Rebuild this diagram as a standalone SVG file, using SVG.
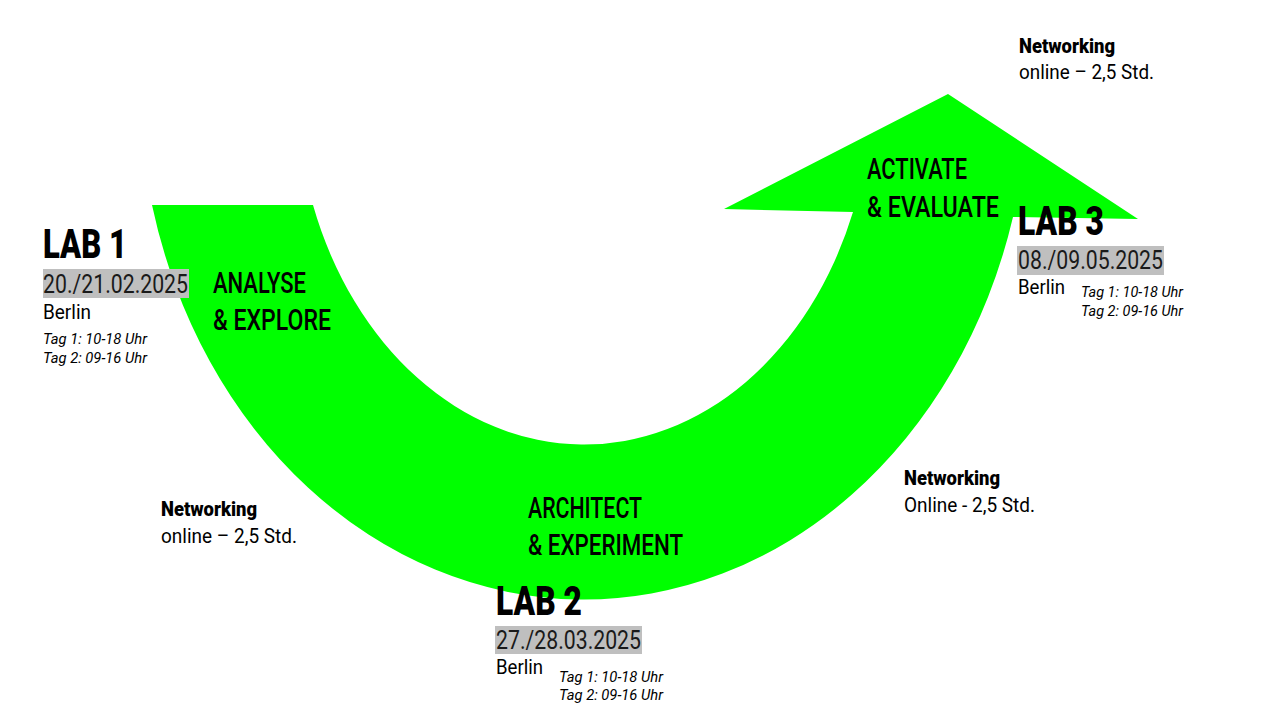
<svg xmlns="http://www.w3.org/2000/svg" width="1280" height="720" viewBox="0 0 1280 720">
<style>
.bg{fill:#ffffff}
.arrow{fill:#00FF00}
.lab{font-family:Roboto,"Liberation Sans",sans-serif;font-weight:900;font-size:40px;fill:#000}
.phase{font-family:Roboto,"Liberation Sans",sans-serif;font-weight:500;font-size:30px;fill:#000}
.date{font-family:Roboto,"Liberation Sans",sans-serif;font-weight:400;font-size:25px;fill:#1a1a1a}
.datebox{fill:#BFBFBF}
.city{font-family:Roboto,"Liberation Sans",sans-serif;font-weight:400;font-size:20px;fill:#000}
.time{font-family:Roboto,"Liberation Sans",sans-serif;font-style:italic;font-weight:400;font-size:15.5px;fill:#000}
.netT{font-family:Roboto,"Liberation Sans",sans-serif;font-weight:900;font-size:20px;fill:#000}
.net{font-family:Roboto,"Liberation Sans",sans-serif;font-weight:400;font-size:20px;fill:#000}
</style>
<rect class="bg" x="0" y="0" width="1280" height="720"/>
<g id="connectors">
  <path id="flow-arrow" class="arrow" d="M152,205 A445,520 0 0 0 1013,217 L1138,219 L948,94 L724,209 L853,212 A288,362 0 0 1 313,205 Z"/>
</g>
<g id="phase-analyse">
  <text class="phase" x="213" y="293" textLength="93" lengthAdjust="spacingAndGlyphs">ANALYSE</text>
  <text class="phase" x="213" y="330" textLength="118" lengthAdjust="spacingAndGlyphs">&amp; EXPLORE</text>
</g>
<g id="phase-architect">
  <text class="phase" x="528" y="518" textLength="114" lengthAdjust="spacingAndGlyphs">ARCHITECT</text>
  <text class="phase" x="528" y="555" textLength="155" lengthAdjust="spacingAndGlyphs">&amp; EXPERIMENT</text>
</g>
<g id="phase-activate">
  <text class="phase" x="867" y="179" textLength="100" lengthAdjust="spacingAndGlyphs">ACTIVATE</text>
  <text class="phase" x="867" y="217" textLength="132" lengthAdjust="spacingAndGlyphs">&amp; EVALUATE</text>
</g>
<g id="lab1">
  <text class="lab" x="43" y="258" textLength="84" lengthAdjust="spacingAndGlyphs">LAB 1</text>
  <rect class="datebox" x="43" y="269" width="146" height="29"/>
  <text class="date" x="43" y="293" textLength="145" lengthAdjust="spacingAndGlyphs">20./21.02.2025</text>
  <text class="city" x="43" y="319" textLength="48" lengthAdjust="spacingAndGlyphs">Berlin</text>
  <text class="time" x="43" y="344" textLength="104" lengthAdjust="spacingAndGlyphs">Tag 1: 10-18 Uhr</text>
  <text class="time" x="43" y="363" textLength="104" lengthAdjust="spacingAndGlyphs">Tag 2: 09-16 Uhr</text>
</g>
<g id="lab2">
  <text class="lab" x="496" y="615" textLength="86" lengthAdjust="spacingAndGlyphs">LAB 2</text>
  <rect class="datebox" x="495" y="626" width="147" height="28"/>
  <text class="date" x="496" y="649" textLength="145" lengthAdjust="spacingAndGlyphs">27./28.03.2025</text>
  <text class="city" x="496" y="674" textLength="47" lengthAdjust="spacingAndGlyphs">Berlin</text>
  <text class="time" x="559" y="682" textLength="104" lengthAdjust="spacingAndGlyphs">Tag 1: 10-18 Uhr</text>
  <text class="time" x="559" y="700" textLength="104" lengthAdjust="spacingAndGlyphs">Tag 2: 09-16 Uhr</text>
</g>
<g id="lab3">
  <text class="lab" x="1018" y="235" textLength="86" lengthAdjust="spacingAndGlyphs">LAB 3</text>
  <rect class="datebox" x="1017" y="246" width="147" height="29"/>
  <text class="date" x="1018" y="269" textLength="145" lengthAdjust="spacingAndGlyphs">08./09.05.2025</text>
  <text class="city" x="1018" y="294" textLength="47" lengthAdjust="spacingAndGlyphs">Berlin</text>
  <text class="time" x="1081" y="297" textLength="102" lengthAdjust="spacingAndGlyphs">Tag 1: 10-18 Uhr</text>
  <text class="time" x="1081" y="316" textLength="102" lengthAdjust="spacingAndGlyphs">Tag 2: 09-16 Uhr</text>
</g>
<g id="networking-1">
  <text class="netT" x="161" y="516" textLength="96" lengthAdjust="spacingAndGlyphs">Networking</text>
  <text class="net" x="161" y="543" textLength="136" lengthAdjust="spacingAndGlyphs">online – 2,5 Std.</text>
</g>
<g id="networking-2">
  <text class="netT" x="904" y="485" textLength="96" lengthAdjust="spacingAndGlyphs">Networking</text>
  <text class="net" x="904" y="512" textLength="131" lengthAdjust="spacingAndGlyphs">Online - 2,5 Std.</text>
</g>
<g id="networking-3">
  <text class="netT" x="1019" y="53" textLength="96" lengthAdjust="spacingAndGlyphs">Networking</text>
  <text class="net" x="1019" y="79" textLength="135" lengthAdjust="spacingAndGlyphs">online – 2,5 Std.</text>
</g>
</svg>
